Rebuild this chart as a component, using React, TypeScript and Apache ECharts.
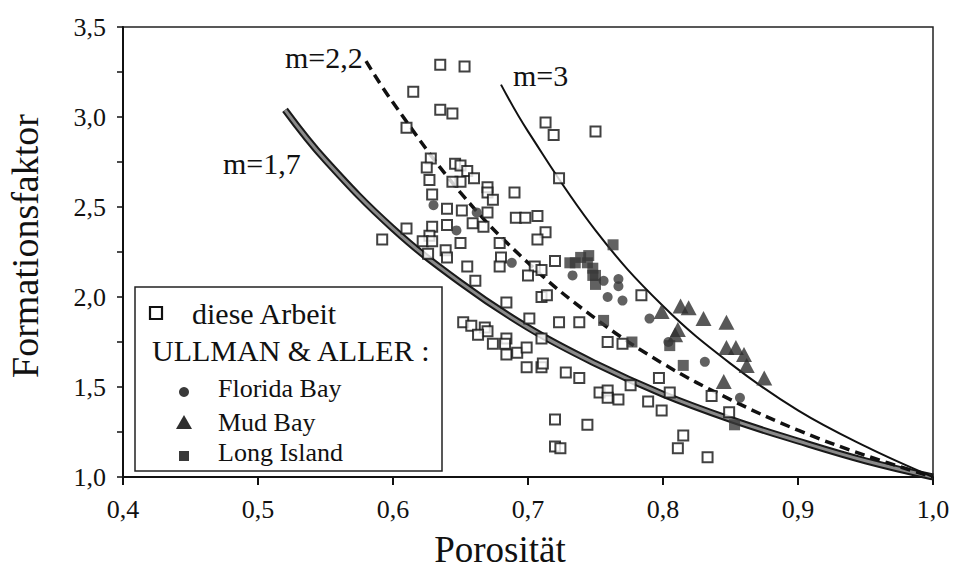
import React, { useEffect, useRef } from "react";
import * as echarts from "echarts";

const FONT = "'Liberation Serif', serif";

// tick labels
const xTickLabels = ["0,4", "0,5", "0,6", "0,7", "0,8", "0,9", "1,0"];
const yTickLabels = ["1,0", "", "1,5", "", "2,0", "", "2,5", "", "3,0", "", "3,5"];

// model curves
const curveM17: [number, number][] = [
  [0.52, 3.04], [0.55, 2.76], [0.6, 2.38], [0.65, 2.08], [0.7, 1.83], [0.75, 1.63],
  [0.8, 1.46], [0.85, 1.32], [0.9, 1.2], [0.95, 1.09], [1.0, 1.0],
];
const curveM22: [number, number][] = [
  [0.58, 3.31], [0.6, 3.08], [0.65, 2.58], [0.7, 2.19], [0.75, 1.88], [0.8, 1.63],
  [0.85, 1.43], [0.9, 1.26], [0.95, 1.12], [1.0, 1.0],
];
const curveM3: [number, number][] = [
  [0.68, 3.18], [0.7, 2.92], [0.75, 2.37], [0.8, 1.95], [0.85, 1.63], [0.9, 1.37],
  [0.95, 1.17], [1.0, 1.0],
];

// diese Arbeit
const thisWork: [number, number][] = [
  [0.635, 3.29], [0.653, 3.28], [0.615, 3.14], [0.635, 3.04], [0.644, 3.02], [0.61, 2.94],
  [0.713, 2.97], [0.719, 2.9], [0.75, 2.92], [0.723, 2.66],
  [0.628, 2.77], [0.625, 2.72], [0.627, 2.65], [0.629, 2.57], [0.646, 2.74], [0.65, 2.73],
  [0.655, 2.7], [0.66, 2.66], [0.65, 2.64], [0.644, 2.64],
  [0.67, 2.61], [0.67, 2.58], [0.674, 2.54], [0.69, 2.58], [0.64, 2.49], [0.651, 2.48],
  [0.67, 2.47], [0.659, 2.41], [0.667, 2.39], [0.64, 2.4],
  [0.629, 2.39], [0.627, 2.34], [0.622, 2.31], [0.629, 2.31], [0.61, 2.38], [0.592, 2.32],
  [0.65, 2.3], [0.639, 2.26], [0.64, 2.22], [0.626, 2.24],
  [0.655, 2.17], [0.661, 2.09], [0.691, 2.44], [0.698, 2.44], [0.707, 2.45], [0.713, 2.36],
  [0.707, 2.32], [0.679, 2.3], [0.68, 2.22], [0.679, 2.17],
  [0.705, 2.17], [0.71, 2.15], [0.7, 2.12], [0.72, 2.2], [0.71, 2.0], [0.714, 2.01],
  [0.684, 1.97], [0.701, 1.88], [0.723, 1.86], [0.738, 1.86],
  [0.652, 1.86], [0.658, 1.84], [0.668, 1.83], [0.67, 1.81], [0.663, 1.79], [0.674, 1.74],
  [0.684, 1.77], [0.683, 1.74], [0.684, 1.68], [0.692, 1.69],
  [0.699, 1.72], [0.71, 1.77], [0.699, 1.61], [0.71, 1.61], [0.711, 1.63], [0.728, 1.58],
  [0.738, 1.55], [0.753, 1.47], [0.759, 1.48], [0.759, 1.44],
  [0.767, 1.43], [0.759, 1.75], [0.77, 1.74], [0.72, 1.32], [0.744, 1.29], [0.72, 1.17],
  [0.724, 1.16], [0.776, 1.51], [0.789, 1.42], [0.797, 1.55],
  [0.799, 1.37], [0.805, 1.47], [0.836, 1.45], [0.849, 1.36], [0.815, 1.23], [0.811, 1.16],
  [0.833, 1.11], [0.784, 2.01],
];

// ULLMAN & ALLER
const floridaBay: [number, number][] = [
  [0.63, 2.51], [0.647, 2.37], [0.662, 2.47], [0.688, 2.19], [0.733, 2.12], [0.756, 2.09],
  [0.767, 2.1], [0.767, 2.06], [0.759, 2.0], [0.77, 1.98], [0.79, 1.88], [0.804, 1.75],
  [0.831, 1.64], [0.857, 1.44],
];
const mudBay: [number, number][] = [
  [0.799, 1.92], [0.813, 1.95], [0.819, 1.94], [0.83, 1.88], [0.847, 1.86], [0.811, 1.82],
  [0.809, 1.79], [0.847, 1.72], [0.854, 1.72], [0.86, 1.68], [0.862, 1.62], [0.875, 1.55],
  [0.845, 1.53],
];
const longIsland: [number, number][] = [
  [0.763, 2.29], [0.739, 2.22], [0.745, 2.23], [0.735, 2.19], [0.731, 2.19], [0.744, 2.19],
  [0.748, 2.16], [0.748, 2.12], [0.75, 2.12], [0.75, 2.07], [0.756, 1.87], [0.777, 1.75],
  [0.805, 1.73], [0.815, 1.62], [0.853, 1.29],
];

export default function App() {
  const ref = useRef<HTMLDivElement>(null);
  useEffect(() => {
    document.body.style.margin = "0";
    const chart = echarts.init(ref.current!, null, { renderer: "svg" });
    const ink = "#111";
    const txt = (text: string, x: number, y: number, size: number, extra: any = {}) => ({
      type: "text",
      x,
      y,
      z: 100,
      ...extra,
      style: {
        text,
        fontSize: size,
        fontFamily: FONT,
        fill: ink,
        align: "left",
        verticalAlign: "middle",
        ...(extra.style || {}),
      },
    });
    chart.setOption({
      animation: false,
      backgroundColor: "#fff",
      textStyle: { fontFamily: FONT },
      grid: {
        left: 123,
        right: 20,
        top: 27,
        bottom: 92,
        show: true,
        borderColor: "#222",
        borderWidth: 1.5,
      },
      xAxis: {
        type: "value",
        min: 0.4,
        max: 1.0,
        interval: 0.1,
        axisLine: { show: true, onZero: false, lineStyle: { color: ink, width: 2 } },
        axisTick: { show: true, length: 8, lineStyle: { color: ink, width: 2 } },
        axisLabel: {
          fontSize: 26,
          fontFamily: FONT,
          color: ink,
          margin: 19,
          formatter: (v: number) => xTickLabels[Math.round((v - 0.4) / 0.1)] ?? "",
        },
        splitLine: { show: false },
      },
      yAxis: {
        type: "value",
        min: 1.0,
        max: 3.5,
        interval: 0.25,
        axisLine: { show: true, onZero: false, lineStyle: { color: ink, width: 2 } },
        axisTick: { show: true, length: 6, lineStyle: { color: ink, width: 1.5 } },
        axisLabel: {
          fontSize: 26,
          fontFamily: FONT,
          color: ink,
          margin: 17,
          formatter: (v: number) => yTickLabels[Math.round((v - 1.0) / 0.25)] ?? "",
        },
        splitLine: { show: false },
      },
      series: [
        {
          type: "line",
          data: curveM17,
          smooth: 0.4,
          showSymbol: false,
          lineStyle: { color: "#1a1a1a", width: 7 },
          z: 1,
        },
        {
          type: "line",
          data: curveM17,
          smooth: 0.4,
          showSymbol: false,
          lineStyle: { color: "#8a8a8a", width: 3 },
          z: 2,
        },
        {
          type: "line",
          data: curveM22,
          smooth: 0.4,
          showSymbol: false,
          lineStyle: { color: "#111", width: 3.5, type: [10, 6] },
          z: 2,
        },
        {
          type: "line",
          data: curveM3,
          smooth: 0.4,
          showSymbol: false,
          lineStyle: { color: "#111", width: 2 },
          z: 2,
        },
        {
          name: "diese Arbeit",
          type: "scatter",
          data: thisWork,
          symbol: "rect",
          symbolSize: 10,
          itemStyle: { color: "#fff", borderColor: "#111", borderWidth: 2 },
          z: 3,
        },
        {
          name: "Florida Bay",
          type: "scatter",
          data: floridaBay,
          symbol: "circle",
          symbolSize: 10,
          itemStyle: { color: "#3a3a3a" },
          z: 4,
        },
        {
          name: "Mud Bay",
          type: "scatter",
          data: mudBay,
          symbol: "triangle",
          symbolSize: [16, 15],
          itemStyle: { color: "#2e2e2e" },
          z: 4,
        },
        {
          name: "Long Island",
          type: "scatter",
          data: longIsland,
          symbol: "rect",
          symbolSize: 11,
          itemStyle: { color: "#3a3a3a" },
          z: 4,
        },
      ],
      graphic: [
        // legend box
        {
          type: "rect",
          z: 90,
          shape: { x: 135, y: 287, width: 307, height: 184 },
          style: { fill: "#fff", stroke: "#222", lineWidth: 1.5 },
        },
        {
          type: "rect",
          z: 100,
          shape: { x: 150, y: 307, width: 12, height: 12 },
          style: { fill: "#fff", stroke: "#111", lineWidth: 2.2 },
        },
        txt("diese Arbeit", 192, 313, 30),
        txt("ULLMAN & ALLER :", 152, 350, 30),
        {
          type: "circle",
          z: 100,
          shape: { cx: 184, cy: 392, r: 5 },
          style: { fill: "#3a3a3a" },
        },
        txt("Florida Bay", 218, 388, 26),
        {
          type: "polygon",
          z: 100,
          shape: { points: [[184, 415], [192, 429], [176, 429]] },
          style: { fill: "#2e2e2e" },
        },
        txt("Mud Bay", 218, 422, 26),
        {
          type: "rect",
          z: 100,
          shape: { x: 179, y: 451, width: 10, height: 10 },
          style: { fill: "#3a3a3a" },
        },
        txt("Long Island", 218, 452, 26),
        // curve labels
        txt("m=2,2", 285, 57, 30),
        txt("m=3", 513, 75, 30),
        txt("m=1,7", 223, 163, 30),
        // axis names
        txt("Porosität", 500, 549, 37, { style: { align: "center" } }),
        txt("Formationsfaktor", 25, 246, 38, {
          rotation: Math.PI / 2,
          style: { align: "center" },
        }),
      ],
    });
    return () => chart.dispose();
  }, []);
  return (
    <div
      ref={ref}
      style={{ position: "fixed", left: 0, top: 0, width: 953, height: 569 }}
    />
  );
}
